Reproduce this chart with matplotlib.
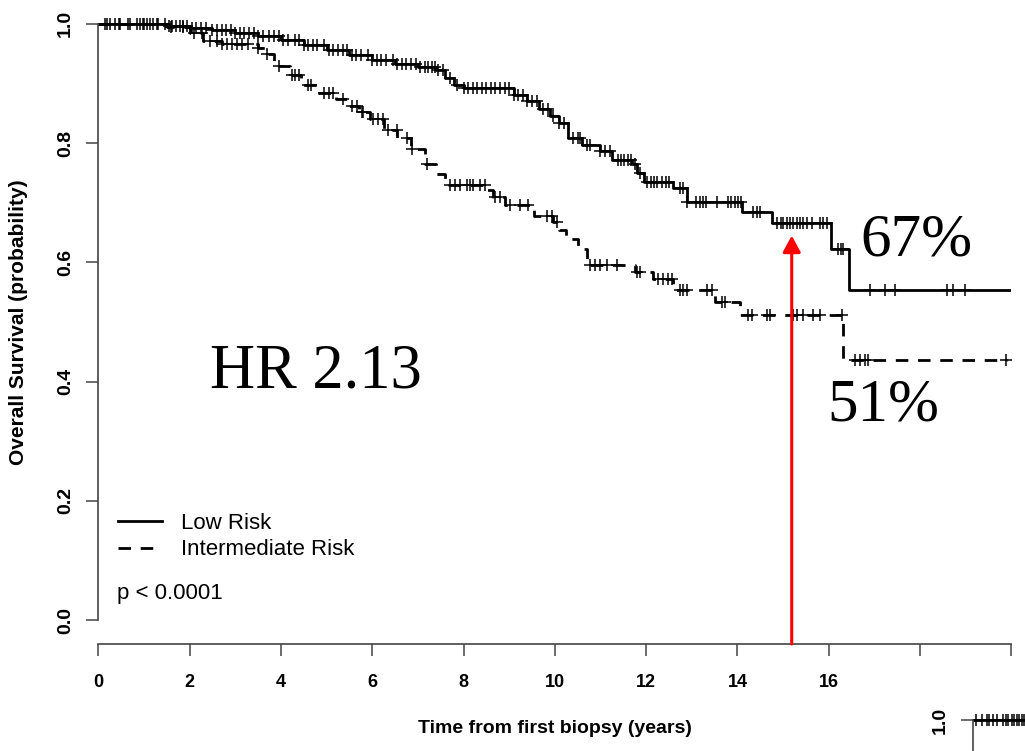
import numpy as np
import matplotlib.pyplot as plt
from matplotlib.lines import Line2D

plt.rcParams['font.family'] = ['Liberation Sans', 'DejaVu Sans']

# Kaplan-Meier steps: (time in years, survival after the step)
low_t = [0, 1.5, 2.0, 2.5, 3.0, 3.5, 4.0, 4.5, 5.0, 5.5, 6.0, 6.5, 7.0, 7.4, 7.6, 7.8,
         8.0, 9.1, 9.4, 9.65, 9.9, 10.1, 10.28, 10.6, 11.0, 11.25, 11.7, 11.8, 11.95,
         12.6, 12.9, 14.1, 14.75, 16.05, 16.45]
low_s = [1.0, 0.997, 0.993, 0.989, 0.985, 0.980, 0.973, 0.965, 0.956, 0.947, 0.940,
         0.933, 0.928, 0.922, 0.910, 0.898, 0.892, 0.880, 0.870, 0.858, 0.845, 0.833,
         0.808, 0.796, 0.786, 0.772, 0.765, 0.750, 0.735, 0.724, 0.701, 0.684, 0.666,
         0.623, 0.553]
low_end = 20.0
low_cens = [0.15, 0.26, 0.37, 0.48, 0.65, 0.85, 0.92, 0.98, 1.07, 1.13, 1.2, 1.28, 1.46,
            1.55, 1.62, 1.7, 1.78, 1.85, 1.95, 2.05, 2.15, 2.25, 2.35, 2.5, 2.6, 2.7, 2.8,
            2.9, 3.0, 3.1, 3.2, 3.3, 3.4, 3.5, 3.6, 3.75, 3.85, 3.95, 4.05, 4.15, 4.3, 4.4,
            4.5, 4.6, 4.7, 4.8, 4.95, 5.05, 5.15, 5.25, 5.35, 5.45, 5.55, 5.65, 5.75, 5.9,
            6.0, 6.1, 6.2, 6.3, 6.45, 6.55, 6.65, 6.75, 6.85, 6.95, 7.05, 7.15, 7.22, 7.3,
            7.38, 7.45, 7.55, 7.7, 7.85, 8.0, 8.1, 8.2, 8.3, 8.4, 8.5, 8.6, 8.7, 8.8, 8.9,
            9.0, 9.1, 9.2, 9.3, 9.4, 9.5, 9.6, 9.75, 9.85, 9.96, 10.1, 10.2, 10.4, 10.5,
            10.55, 10.7, 10.77, 11.0, 11.1, 11.2, 11.38, 11.45, 11.52, 11.6, 11.66, 11.75,
            11.87, 12.02, 12.1, 12.17, 12.24, 12.35, 12.43, 12.5, 12.74, 12.8, 12.9, 13.1,
            13.17, 13.24, 13.31, 13.55, 13.8, 13.87, 13.95, 14.02, 14.08, 14.34, 14.42,
            14.5, 14.87, 14.95, 15.0, 15.08, 15.15, 15.22, 15.3, 15.37, 15.44, 15.53,
            15.64, 15.81, 15.87, 15.97, 16.2, 16.27, 16.31, 16.9, 17.23, 17.45, 18.59,
            18.72, 18.98]

inter_t = [0, 1.5, 2.0, 2.3, 2.7, 3.5, 3.65, 3.85, 4.2, 4.45, 4.8, 5.2, 5.5, 5.7, 5.95,
           6.25, 6.55, 6.85, 7.15, 7.4, 7.6, 8.5, 8.65, 8.9, 9.55, 9.95, 10.1, 10.25,
           10.5, 10.7, 11.75, 12.15, 12.6, 13.5, 14.05, 16.32]
inter_s = [1.0, 0.995, 0.985, 0.972, 0.967, 0.960, 0.950, 0.930, 0.915, 0.898, 0.884,
           0.874, 0.863, 0.853, 0.840, 0.822, 0.808, 0.790, 0.765, 0.748, 0.730, 0.722,
           0.710, 0.697, 0.678, 0.668, 0.655, 0.640, 0.622, 0.595, 0.584, 0.572, 0.553,
           0.533, 0.511, 0.437]
inter_end = 19.9
inter_cens = [0.2, 0.45, 0.7, 1.0, 1.3, 1.6, 1.85, 2.1, 2.27, 2.45, 2.6, 2.7, 2.82, 2.93,
              3.04, 3.15, 3.28, 3.5, 3.7, 3.95, 4.25, 4.3, 4.4, 4.6, 4.65, 4.95, 5.05,
              5.14, 5.36, 5.55, 5.67, 5.78, 5.8, 6.02, 6.13, 6.24, 6.35, 6.54, 6.76, 6.87,
              7.2, 7.7, 7.81, 7.92, 8.08, 8.14, 8.21, 8.36, 8.47, 8.69, 8.8, 9.02, 9.24,
              9.41, 9.83, 9.94, 10.05, 10.77, 10.88, 10.99, 11.14, 11.36, 11.8, 11.87,
              12.26, 12.37, 12.48, 12.57, 12.74, 12.81, 12.9, 13.33, 13.44, 13.66, 13.73,
              14.23, 14.32, 14.65, 14.71, 15.22, 15.3, 15.43, 15.65, 15.81, 16.29, 16.57,
              16.68, 16.79, 16.86, 19.88]

# fragment of a second plot peeking in at the bottom right
inset_cens = [0.07, 0.2, 0.31, 0.35, 0.44, 0.53, 0.66, 0.72, 0.77, 0.85, 0.9, 0.96, 1.0,
              1.07, 1.12]

xticks = [0, 2, 4, 6, 8, 10, 12, 14, 16, 18, 20]
xtick_labels = ['0', '2', '4', '6', '8', '10', '12', '14', '16', '', '']
yticks = [0.0, 0.2, 0.4, 0.6, 0.8, 1.0]

arrow_t = 15.19
arrow_s = 0.645


def surv_at(times, steps_t, steps_s):
    idx = np.searchsorted(steps_t, times, side='right') - 1
    return np.array(steps_s)[idx]


fig = plt.figure(figsize=(10.25, 7.51), dpi=100)
ax = fig.add_axes([98.3 / 1025, 107 / 751, 913 / 1025, 644 / 751])
ax.set_xlim(0, 20)
ax.set_ylim(-0.04, 1.04)

# curves
ax.step(low_t + [low_end], low_s + [low_s[-1]], where='post', color='black', lw=2.0)
ax.step(inter_t + [inter_end], inter_s + [inter_s[-1]], where='post', color='black',
        lw=2.0, dashes=(4.5, 3.5))
ax.plot(low_cens, surv_at(low_cens, low_t, low_s), ls='none', marker='+', ms=9,
        mew=1.1, color='black')
ax.plot(inter_cens, surv_at(inter_cens, inter_t, inter_s), ls='none', marker='+', ms=9,
        mew=1.1, color='black')

# red arrow
ax.annotate('', xy=(arrow_t, arrow_s), xytext=(arrow_t, -0.04),
            arrowprops=dict(arrowstyle='-|>,head_length=0.5,head_width=0.27',
                            mutation_scale=20, color='red', lw=2.2,
                            shrinkA=0, shrinkB=0))

# axes in R style
for side in ['top', 'right']:
    ax.spines[side].set_visible(False)
ax.spines['left'].set_bounds(0, 1)
ax.spines['bottom'].set_bounds(0, 20)
for side in ['left', 'bottom']:
    ax.spines[side].set_color('#444444')
    ax.spines[side].set_linewidth(1.2)
ax.set_xticks(xticks)
ax.set_xticklabels(xtick_labels, fontsize=13, fontweight='bold')
ax.set_yticks(yticks)
ax.set_yticklabels([f'{v:.1f}' for v in yticks], fontsize=14, fontweight='bold',
                   rotation=90, va='center')
ax.tick_params(axis='both', direction='out', length=8.5, width=1.1, color='#444444')
ax.tick_params(axis='x', pad=13)
ax.tick_params(axis='y', pad=9)

ax.set_xlabel('Time from first biopsy (years)', fontsize=14, fontweight='bold', va='top')
ax.xaxis.set_label_coords(0.5, -0.118)
ax.set_ylabel('Overall Survival (probability)', fontsize=15, fontweight='bold')
ax.yaxis.set_label_coords(-0.077, 0.5)

# legend
handles = [Line2D([], [], color='black', lw=2.0),
           Line2D([], [], color='black', lw=2.0, dashes=(4.5, 3.5))]
ax.legend(handles, ['Low Risk', 'Intermediate Risk'], loc='upper left',
          bbox_to_anchor=(0.005, 0.228), frameon=False, fontsize=16,
          handlelength=1.95, handletextpad=0.85, labelspacing=0.25, borderpad=0.2)
ax.text(0.4, 0.045, 'p < 0.0001', fontsize=16, va='center', ha='left')

# big annotations
serif = ['Liberation Serif', 'DejaVu Serif']
ax.text(2.45, 0.39, 'HR 2.13', fontsize=45, family=serif, ha='left', va='baseline')
ax.text(16.69, 0.612, '67%', fontsize=44, family=serif, ha='left', va='baseline')
ax.text(15.98, 0.335, '51%', fontsize=44, family=serif, ha='left', va='baseline')

# partial second panel at the bottom right, same scale as the main one
ax2 = fig.add_axes([973 / 1025, 0.0413 - 0.8575 * (1.04 / 1.08), 913 / 1025, 0.8575])
ax2.set_xlim(0, 20)
ax2.set_ylim(-0.04, 1.04)
ax2.plot([0, 20], [1.0, 1.0], color='black', lw=2.0)
ax2.plot(inset_cens, [1.0] * len(inset_cens), ls='none', marker='+', ms=9, mew=1.1,
         color='black')
for side in ['top', 'right', 'bottom']:
    ax2.spines[side].set_visible(False)
ax2.spines['left'].set_bounds(0, 1)
ax2.spines['left'].set_color('#444444')
ax2.spines['left'].set_linewidth(1.2)
ax2.set_xticks([])
ax2.set_yticks([1.0])
ax2.set_yticklabels(['1.0'], fontsize=14, fontweight='bold', rotation=90, va='center')
ax2.tick_params(axis='y', direction='out', length=8.5, width=1.1, color='#444444', pad=9)
ax2.patch.set_alpha(0)

fig.savefig('out.png', dpi=100)
